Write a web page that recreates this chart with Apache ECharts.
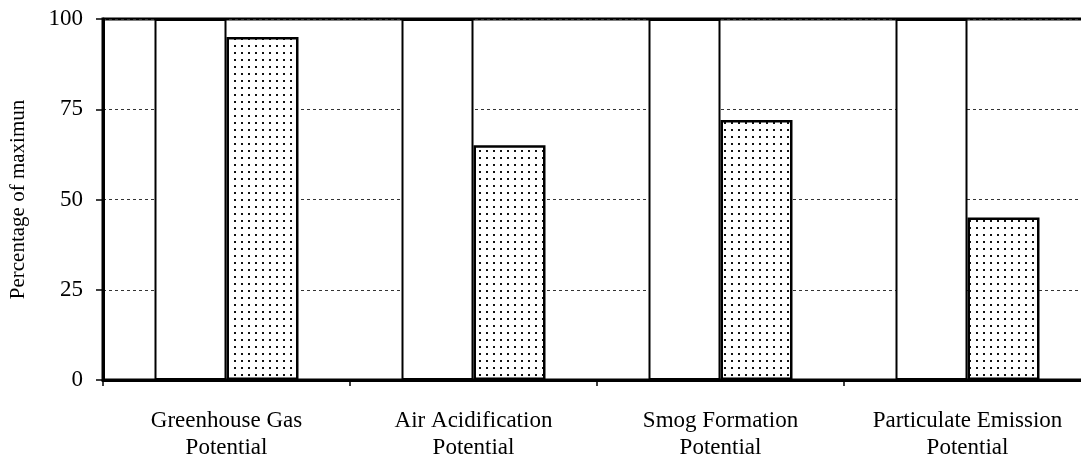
<!DOCTYPE html>
<html><head><meta charset="utf-8">
<script src="https://cdn.jsdelivr.net/npm/echarts@6/dist/echarts.min.js"></script>
<style>html,body{margin:0;padding:0;background:#fff;overflow:hidden}#c{width:1091px;height:464px}</style>
</head><body><div id="c"></div>
<script>
var categories = ["Greenhouse Gas\nPotential", "Air Acidification\nPotential", "Smog Formation\nPotential", "Particulate Emission\nPotential"];
var baselineValues = [100, 100, 100, 100];
var alternativeValues = [95, 65, 72, 45];
var yTicks = [0, 25, 50, 75, 100];

function dotPattern() {
  var c = document.createElement('canvas');
  c.width = 7; c.height = 7;
  var g = c.getContext('2d');
  g.fillStyle = '#fff'; g.fillRect(0, 0, 7, 7);
  g.fillStyle = '#111';
  g.fillRect(3, 3, 2, 2);
  return c;
}
var font = "'Liberation Serif', 'Times New Roman', serif";
var chart = echarts.init(document.getElementById('c'), null, {renderer: 'canvas'});
chart.setOption({
  animation: false,
  backgroundColor: '#fff',
  grid: {left: 103, right: 0, top: 19, bottom: 84, show: true, borderColor: '#000', borderWidth: 3, backgroundColor: 'transparent'},
  xAxis: {
    type: 'category', data: categories, boundaryGap: true,
    axisLine: {lineStyle: {color: '#000', width: 3}},
    axisTick: {show: true, length: 6, lineStyle: {color: '#000', width: 1.5}},
    axisLabel: {color: '#000', fontFamily: font, fontSize: 23, lineHeight: 27, margin: 27}
  },
  yAxis: {
    type: 'value', min: 0, max: 100, interval: 25,
    name: 'Percentage of maximun', nameLocation: 'middle', nameGap: 74,
    nameTextStyle: {color: '#000', fontFamily: font, fontSize: 21},
    axisLine: {show: true, lineStyle: {color: '#000', width: 3}},
    axisTick: {show: true, length: 7, lineStyle: {color: '#000', width: 1.5}},
    axisLabel: {color: '#000', fontFamily: font, fontSize: 23, margin: 20,
      formatter: function (v) { return yTicks.indexOf(v) >= 0 ? String(v) : ''; }},
    splitLine: {show: true, lineStyle: {color: '#333', width: 1, type: [3, 3]}}
  },
  series: [
    {type: 'bar', data: baselineValues, barWidth: 72, barGap: '0%',
      itemStyle: {color: '#fff', borderColor: '#000', borderWidth: 2}},
    {type: 'bar', data: alternativeValues, barWidth: 72, barGap: '0%',
      itemStyle: {color: {image: dotPattern(), repeat: 'repeat'}, borderColor: '#000', borderWidth: 2.5}}
  ]
});
</script></body></html>
